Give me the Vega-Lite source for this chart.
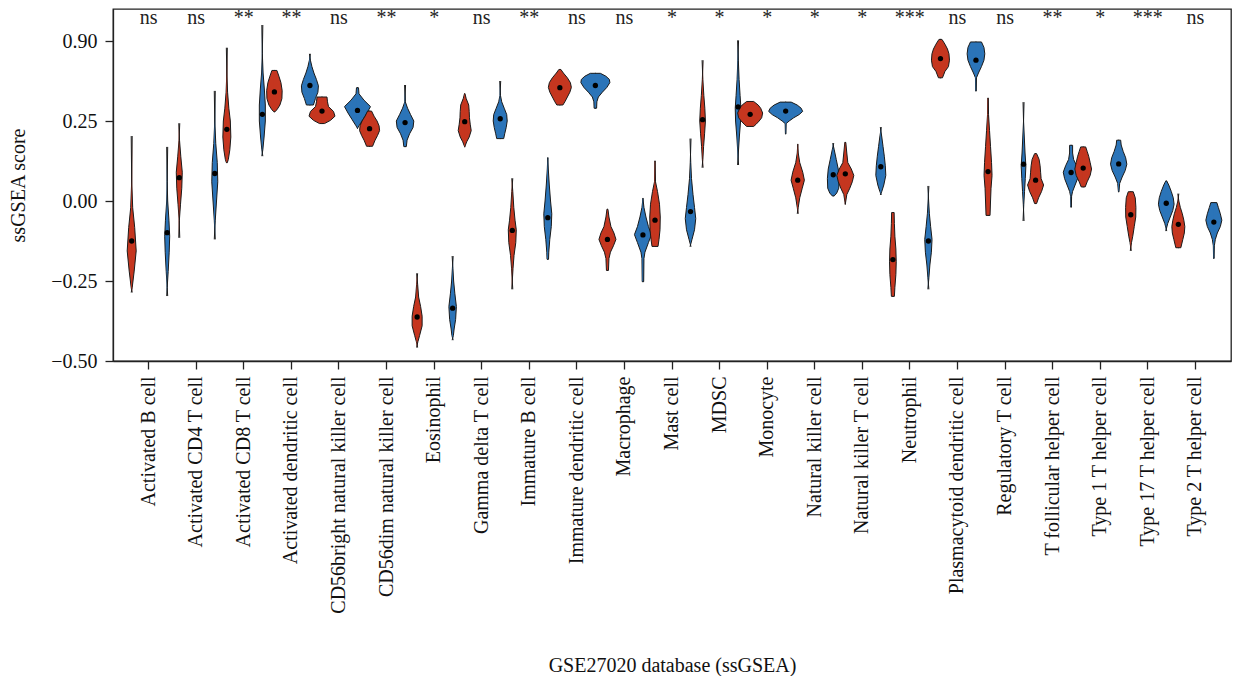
{
"$schema": "https://vega.github.io/schema/vega-lite/v6.json",
"width": 1118, "height": 352,
"autosize": {"type": "none"},
"padding": {"left": 113, "top": 9, "right": 2, "bottom": 315},
"background": "white",
"config": {
  "font": "Liberation Serif",
  "view": {"stroke": "#222", "strokeWidth": 1.3},
  "axis": {"labelFont": "Liberation Serif", "titleFont": "Liberation Serif", "labelFontSize": 20, "titleFontSize": 20, "titleFontWeight": "normal", "labelColor": "#111", "titleColor": "#111", "domainColor": "#222", "tickColor": "#222", "domainWidth": 1.3, "tickWidth": 1.3, "grid": false, "tickSize": 8, "labelLimit": 0}
},
"datasets": {
"violins": [
{"cell":"Activated B cell","group":"G1","score":0.203,"density":0},{"cell":"Activated B cell","group":"G1","score":0.0625,"density":1},{"cell":"Activated B cell","group":"G1","score":-0.021,"density":3},{"cell":"Activated B cell","group":"G1","score":-0.083,"density":7},{"cell":"Activated B cell","group":"G1","score":-0.156,"density":10},{"cell":"Activated B cell","group":"G1","score":-0.219,"density":6},{"cell":"Activated B cell","group":"G1","score":-0.271,"density":2},{"cell":"Activated B cell","group":"G1","score":-0.286,"density":0},
{"cell":"Activated B cell","group":"G2","score":0.169,"density":0},{"cell":"Activated B cell","group":"G2","score":0.06,"density":1},{"cell":"Activated B cell","group":"G2","score":0.0,"density":2},{"cell":"Activated B cell","group":"G2","score":-0.06,"density":4.5},{"cell":"Activated B cell","group":"G2","score":-0.11,"density":6},{"cell":"Activated B cell","group":"G2","score":-0.16,"density":5},{"cell":"Activated B cell","group":"G2","score":-0.22,"density":3},{"cell":"Activated B cell","group":"G2","score":-0.27,"density":1},{"cell":"Activated B cell","group":"G2","score":-0.297,"density":0},
{"cell":"Activated CD4 T cell","group":"G1","score":0.243,"density":0},{"cell":"Activated CD4 T cell","group":"G1","score":0.19,"density":1.5},{"cell":"Activated CD4 T cell","group":"G1","score":0.14,"density":4},{"cell":"Activated CD4 T cell","group":"G1","score":0.09,"density":7},{"cell":"Activated CD4 T cell","group":"G1","score":0.04,"density":6},{"cell":"Activated CD4 T cell","group":"G1","score":-0.01,"density":3.5},{"cell":"Activated CD4 T cell","group":"G1","score":-0.06,"density":1.2},{"cell":"Activated CD4 T cell","group":"G1","score":-0.115,"density":0},
{"cell":"Activated CD4 T cell","group":"G2","score":0.344,"density":0},{"cell":"Activated CD4 T cell","group":"G2","score":0.25,"density":1},{"cell":"Activated CD4 T cell","group":"G2","score":0.18,"density":3},{"cell":"Activated CD4 T cell","group":"G2","score":0.12,"density":6},{"cell":"Activated CD4 T cell","group":"G2","score":0.06,"density":7},{"cell":"Activated CD4 T cell","group":"G2","score":0.0,"density":4.5},{"cell":"Activated CD4 T cell","group":"G2","score":-0.06,"density":2},{"cell":"Activated CD4 T cell","group":"G2","score":-0.12,"density":0},
{"cell":"Activated CD8 T cell","group":"G1","score":0.479,"density":0},{"cell":"Activated CD8 T cell","group":"G1","score":0.40,"density":1},{"cell":"Activated CD8 T cell","group":"G1","score":0.34,"density":2.5},{"cell":"Activated CD8 T cell","group":"G1","score":0.29,"density":5},{"cell":"Activated CD8 T cell","group":"G1","score":0.25,"density":8},{"cell":"Activated CD8 T cell","group":"G1","score":0.20,"density":9},{"cell":"Activated CD8 T cell","group":"G1","score":0.16,"density":7},{"cell":"Activated CD8 T cell","group":"G1","score":0.13,"density":4},{"cell":"Activated CD8 T cell","group":"G1","score":0.12,"density":2},{"cell":"Activated CD8 T cell","group":"G1","score":0.12,"density":0},
{"cell":"Activated CD8 T cell","group":"G2","score":0.55,"density":0},{"cell":"Activated CD8 T cell","group":"G2","score":0.46,"density":1},{"cell":"Activated CD8 T cell","group":"G2","score":0.40,"density":2.5},{"cell":"Activated CD8 T cell","group":"G2","score":0.35,"density":5},{"cell":"Activated CD8 T cell","group":"G2","score":0.30,"density":7},{"cell":"Activated CD8 T cell","group":"G2","score":0.25,"density":7},{"cell":"Activated CD8 T cell","group":"G2","score":0.20,"density":4.5},{"cell":"Activated CD8 T cell","group":"G2","score":0.16,"density":2},{"cell":"Activated CD8 T cell","group":"G2","score":0.14,"density":0},
{"cell":"Activated dendritic cell","group":"G1","score":0.408,"density":0},{"cell":"Activated dendritic cell","group":"G1","score":0.408,"density":6},{"cell":"Activated dendritic cell","group":"G1","score":0.39,"density":10},{"cell":"Activated dendritic cell","group":"G1","score":0.37,"density":14},{"cell":"Activated dendritic cell","group":"G1","score":0.345,"density":16.5},{"cell":"Activated dendritic cell","group":"G1","score":0.32,"density":16},{"cell":"Activated dendritic cell","group":"G1","score":0.30,"density":12},{"cell":"Activated dendritic cell","group":"G1","score":0.285,"density":6},{"cell":"Activated dendritic cell","group":"G1","score":0.279,"density":2},{"cell":"Activated dendritic cell","group":"G1","score":0.279,"density":0},
{"cell":"Activated dendritic cell","group":"G2","score":0.46,"density":0},{"cell":"Activated dendritic cell","group":"G2","score":0.44,"density":2},{"cell":"Activated dendritic cell","group":"G2","score":0.42,"density":5},{"cell":"Activated dendritic cell","group":"G2","score":0.40,"density":9},{"cell":"Activated dendritic cell","group":"G2","score":0.38,"density":14},{"cell":"Activated dendritic cell","group":"G2","score":0.36,"density":18},{"cell":"Activated dendritic cell","group":"G2","score":0.34,"density":17},{"cell":"Activated dendritic cell","group":"G2","score":0.32,"density":12},{"cell":"Activated dendritic cell","group":"G2","score":0.30,"density":8},{"cell":"Activated dendritic cell","group":"G2","score":0.30,"density":0},
{"cell":"CD56bright natural killer cell","group":"G1","score":0.325,"density":0},{"cell":"CD56bright natural killer cell","group":"G1","score":0.325,"density":11},{"cell":"CD56bright natural killer cell","group":"G1","score":0.31,"density":12},{"cell":"CD56bright natural killer cell","group":"G1","score":0.295,"density":14},{"cell":"CD56bright natural killer cell","group":"G1","score":0.28,"density":24},{"cell":"CD56bright natural killer cell","group":"G1","score":0.265,"density":27},{"cell":"CD56bright natural killer cell","group":"G1","score":0.252,"density":18},{"cell":"CD56bright natural killer cell","group":"G1","score":0.242,"density":6},{"cell":"CD56bright natural killer cell","group":"G1","score":0.242,"density":0},
{"cell":"CD56bright natural killer cell","group":"G2","score":0.354,"density":0},{"cell":"CD56bright natural killer cell","group":"G2","score":0.354,"density":3},{"cell":"CD56bright natural killer cell","group":"G2","score":0.335,"density":4},{"cell":"CD56bright natural killer cell","group":"G2","score":0.315,"density":14},{"cell":"CD56bright natural killer cell","group":"G2","score":0.295,"density":27},{"cell":"CD56bright natural killer cell","group":"G2","score":0.275,"density":20},{"cell":"CD56bright natural killer cell","group":"G2","score":0.255,"density":12},{"cell":"CD56bright natural killer cell","group":"G2","score":0.235,"density":4},{"cell":"CD56bright natural killer cell","group":"G2","score":0.227,"density":1},{"cell":"CD56bright natural killer cell","group":"G2","score":0.227,"density":0},
{"cell":"CD56dim natural killer cell","group":"G1","score":0.281,"density":0},{"cell":"CD56dim natural killer cell","group":"G1","score":0.281,"density":5},{"cell":"CD56dim natural killer cell","group":"G1","score":0.265,"density":10},{"cell":"CD56dim natural killer cell","group":"G1","score":0.25,"density":16},{"cell":"CD56dim natural killer cell","group":"G1","score":0.235,"density":20},{"cell":"CD56dim natural killer cell","group":"G1","score":0.22,"density":21},{"cell":"CD56dim natural killer cell","group":"G1","score":0.205,"density":17},{"cell":"CD56dim natural killer cell","group":"G1","score":0.19,"density":12},{"cell":"CD56dim natural killer cell","group":"G1","score":0.175,"density":8},{"cell":"CD56dim natural killer cell","group":"G1","score":0.171,"density":7},{"cell":"CD56dim natural killer cell","group":"G1","score":0.171,"density":0},
{"cell":"CD56dim natural killer cell","group":"G2","score":0.3625,"density":0},{"cell":"CD56dim natural killer cell","group":"G2","score":0.31,"density":1.5},{"cell":"CD56dim natural killer cell","group":"G2","score":0.29,"density":6},{"cell":"CD56dim natural killer cell","group":"G2","score":0.27,"density":12},{"cell":"CD56dim natural killer cell","group":"G2","score":0.25,"density":18.5},{"cell":"CD56dim natural killer cell","group":"G2","score":0.23,"density":17},{"cell":"CD56dim natural killer cell","group":"G2","score":0.21,"density":10},{"cell":"CD56dim natural killer cell","group":"G2","score":0.19,"density":5},{"cell":"CD56dim natural killer cell","group":"G2","score":0.17,"density":3.5},{"cell":"CD56dim natural killer cell","group":"G2","score":0.17,"density":0},
{"cell":"Eosinophil","group":"G1","score":-0.226,"density":0},{"cell":"Eosinophil","group":"G1","score":-0.26,"density":2},{"cell":"Eosinophil","group":"G1","score":-0.30,"density":4},{"cell":"Eosinophil","group":"G1","score":-0.33,"density":8},{"cell":"Eosinophil","group":"G1","score":-0.36,"density":11},{"cell":"Eosinophil","group":"G1","score":-0.39,"density":11},{"cell":"Eosinophil","group":"G1","score":-0.42,"density":6},{"cell":"Eosinophil","group":"G1","score":-0.44,"density":2.5},{"cell":"Eosinophil","group":"G1","score":-0.458,"density":0},
{"cell":"Eosinophil","group":"G2","score":-0.172,"density":0},{"cell":"Eosinophil","group":"G2","score":-0.21,"density":1.5},{"cell":"Eosinophil","group":"G2","score":-0.25,"density":3},{"cell":"Eosinophil","group":"G2","score":-0.29,"density":5.5},{"cell":"Eosinophil","group":"G2","score":-0.33,"density":8.5},{"cell":"Eosinophil","group":"G2","score":-0.37,"density":7},{"cell":"Eosinophil","group":"G2","score":-0.40,"density":4},{"cell":"Eosinophil","group":"G2","score":-0.42,"density":2.5},{"cell":"Eosinophil","group":"G2","score":-0.435,"density":0},
{"cell":"Gamma delta T cell","group":"G1","score":0.335,"density":0},{"cell":"Gamma delta T cell","group":"G1","score":0.335,"density":1.5},{"cell":"Gamma delta T cell","group":"G1","score":0.32,"density":4},{"cell":"Gamma delta T cell","group":"G1","score":0.30,"density":9},{"cell":"Gamma delta T cell","group":"G1","score":0.28,"density":10},{"cell":"Gamma delta T cell","group":"G1","score":0.26,"density":10.5},{"cell":"Gamma delta T cell","group":"G1","score":0.24,"density":12},{"cell":"Gamma delta T cell","group":"G1","score":0.22,"density":14},{"cell":"Gamma delta T cell","group":"G1","score":0.20,"density":10},{"cell":"Gamma delta T cell","group":"G1","score":0.185,"density":5},{"cell":"Gamma delta T cell","group":"G1","score":0.169,"density":1},{"cell":"Gamma delta T cell","group":"G1","score":0.169,"density":0},
{"cell":"Gamma delta T cell","group":"G2","score":0.375,"density":0},{"cell":"Gamma delta T cell","group":"G2","score":0.33,"density":1.5},{"cell":"Gamma delta T cell","group":"G2","score":0.31,"density":4},{"cell":"Gamma delta T cell","group":"G2","score":0.29,"density":9},{"cell":"Gamma delta T cell","group":"G2","score":0.27,"density":14},{"cell":"Gamma delta T cell","group":"G2","score":0.25,"density":15},{"cell":"Gamma delta T cell","group":"G2","score":0.23,"density":13},{"cell":"Gamma delta T cell","group":"G2","score":0.21,"density":10},{"cell":"Gamma delta T cell","group":"G2","score":0.195,"density":8},{"cell":"Gamma delta T cell","group":"G2","score":0.195,"density":0},
{"cell":"Immature B cell","group":"G1","score":0.071,"density":0},{"cell":"Immature B cell","group":"G1","score":0.03,"density":2},{"cell":"Immature B cell","group":"G1","score":-0.02,"density":4},{"cell":"Immature B cell","group":"G1","score":-0.06,"density":6.5},{"cell":"Immature B cell","group":"G1","score":-0.09,"density":9},{"cell":"Immature B cell","group":"G1","score":-0.13,"density":8},{"cell":"Immature B cell","group":"G1","score":-0.17,"density":4.5},{"cell":"Immature B cell","group":"G1","score":-0.21,"density":2.5},{"cell":"Immature B cell","group":"G1","score":-0.25,"density":1},{"cell":"Immature B cell","group":"G1","score":-0.276,"density":0},
{"cell":"Immature B cell","group":"G2","score":0.135,"density":0},{"cell":"Immature B cell","group":"G2","score":0.135,"density":1},{"cell":"Immature B cell","group":"G2","score":0.10,"density":2},{"cell":"Immature B cell","group":"G2","score":0.05,"density":4},{"cell":"Immature B cell","group":"G2","score":0.0,"density":6.5},{"cell":"Immature B cell","group":"G2","score":-0.04,"density":9},{"cell":"Immature B cell","group":"G2","score":-0.08,"density":8},{"cell":"Immature B cell","group":"G2","score":-0.12,"density":5},{"cell":"Immature B cell","group":"G2","score":-0.16,"density":3},{"cell":"Immature B cell","group":"G2","score":-0.182,"density":2.5},{"cell":"Immature B cell","group":"G2","score":-0.182,"density":0},
{"cell":"Immature dendritic cell","group":"G1","score":0.411,"density":0},{"cell":"Immature dendritic cell","group":"G1","score":0.411,"density":3},{"cell":"Immature dendritic cell","group":"G1","score":0.40,"density":8},{"cell":"Immature dendritic cell","group":"G1","score":0.385,"density":16},{"cell":"Immature dendritic cell","group":"G1","score":0.37,"density":22},{"cell":"Immature dendritic cell","group":"G1","score":0.355,"density":24},{"cell":"Immature dendritic cell","group":"G1","score":0.34,"density":21},{"cell":"Immature dendritic cell","group":"G1","score":0.325,"density":16},{"cell":"Immature dendritic cell","group":"G1","score":0.31,"density":11},{"cell":"Immature dendritic cell","group":"G1","score":0.30,"density":7},{"cell":"Immature dendritic cell","group":"G1","score":0.30,"density":0},
{"cell":"Immature dendritic cell","group":"G2","score":0.399,"density":0},{"cell":"Immature dendritic cell","group":"G2","score":0.399,"density":11},{"cell":"Immature dendritic cell","group":"G2","score":0.39,"density":22},{"cell":"Immature dendritic cell","group":"G2","score":0.38,"density":29},{"cell":"Immature dendritic cell","group":"G2","score":0.37,"density":30},{"cell":"Immature dendritic cell","group":"G2","score":0.355,"density":24},{"cell":"Immature dendritic cell","group":"G2","score":0.34,"density":15},{"cell":"Immature dendritic cell","group":"G2","score":0.325,"density":7},{"cell":"Immature dendritic cell","group":"G2","score":0.31,"density":4},{"cell":"Immature dendritic cell","group":"G2","score":0.29,"density":3.5},{"cell":"Immature dendritic cell","group":"G2","score":0.29,"density":0},
{"cell":"Macrophage","group":"G1","score":-0.026,"density":0},{"cell":"Macrophage","group":"G1","score":-0.026,"density":2},{"cell":"Macrophage","group":"G1","score":-0.05,"density":4},{"cell":"Macrophage","group":"G1","score":-0.08,"density":8},{"cell":"Macrophage","group":"G1","score":-0.10,"density":14},{"cell":"Macrophage","group":"G1","score":-0.12,"density":18},{"cell":"Macrophage","group":"G1","score":-0.14,"density":13},{"cell":"Macrophage","group":"G1","score":-0.16,"density":7},{"cell":"Macrophage","group":"G1","score":-0.18,"density":4},{"cell":"Macrophage","group":"G1","score":-0.217,"density":3},{"cell":"Macrophage","group":"G1","score":-0.217,"density":0},
{"cell":"Macrophage","group":"G2","score":0.008,"density":0},{"cell":"Macrophage","group":"G2","score":0.008,"density":1},{"cell":"Macrophage","group":"G2","score":-0.02,"density":3},{"cell":"Macrophage","group":"G2","score":-0.05,"density":7},{"cell":"Macrophage","group":"G2","score":-0.08,"density":12},{"cell":"Macrophage","group":"G2","score":-0.105,"density":18},{"cell":"Macrophage","group":"G2","score":-0.13,"density":12},{"cell":"Macrophage","group":"G2","score":-0.16,"density":5},{"cell":"Macrophage","group":"G2","score":-0.18,"density":3},{"cell":"Macrophage","group":"G2","score":-0.252,"density":2.5},{"cell":"Macrophage","group":"G2","score":-0.252,"density":0},
{"cell":"Mast cell","group":"G1","score":0.125,"density":0},{"cell":"Mast cell","group":"G1","score":0.125,"density":1},{"cell":"Mast cell","group":"G1","score":0.06,"density":2},{"cell":"Mast cell","group":"G1","score":0.03,"density":6},{"cell":"Mast cell","group":"G1","score":-0.01,"density":10},{"cell":"Mast cell","group":"G1","score":-0.05,"density":11.5},{"cell":"Mast cell","group":"G1","score":-0.09,"density":11},{"cell":"Mast cell","group":"G1","score":-0.12,"density":9},{"cell":"Mast cell","group":"G1","score":-0.142,"density":7},{"cell":"Mast cell","group":"G1","score":-0.142,"density":0},
{"cell":"Mast cell","group":"G2","score":0.195,"density":0},{"cell":"Mast cell","group":"G2","score":0.12,"density":1.5},{"cell":"Mast cell","group":"G2","score":0.07,"density":3},{"cell":"Mast cell","group":"G2","score":0.02,"density":6},{"cell":"Mast cell","group":"G2","score":-0.02,"density":9},{"cell":"Mast cell","group":"G2","score":-0.055,"density":11.5},{"cell":"Mast cell","group":"G2","score":-0.09,"density":9},{"cell":"Mast cell","group":"G2","score":-0.12,"density":4},{"cell":"Mast cell","group":"G2","score":-0.143,"density":0},
{"cell":"MDSC","group":"G1","score":0.44,"density":0},{"cell":"MDSC","group":"G1","score":0.38,"density":1.5},{"cell":"MDSC","group":"G1","score":0.33,"density":3.5},{"cell":"MDSC","group":"G1","score":0.29,"density":5.5},{"cell":"MDSC","group":"G1","score":0.25,"density":6.7},{"cell":"MDSC","group":"G1","score":0.21,"density":5},{"cell":"MDSC","group":"G1","score":0.17,"density":3},{"cell":"MDSC","group":"G1","score":0.13,"density":1.5},{"cell":"MDSC","group":"G1","score":0.104,"density":0},
{"cell":"MDSC","group":"G2","score":0.502,"density":0},{"cell":"MDSC","group":"G2","score":0.44,"density":1.5},{"cell":"MDSC","group":"G2","score":0.38,"density":3},{"cell":"MDSC","group":"G2","score":0.33,"density":5},{"cell":"MDSC","group":"G2","score":0.29,"density":6.7},{"cell":"MDSC","group":"G2","score":0.25,"density":6},{"cell":"MDSC","group":"G2","score":0.20,"density":3.5},{"cell":"MDSC","group":"G2","score":0.15,"density":1.5},{"cell":"MDSC","group":"G2","score":0.1125,"density":0},
{"cell":"Monocyte","group":"G1","score":0.311,"density":0},{"cell":"Monocyte","group":"G1","score":0.311,"density":8},{"cell":"Monocyte","group":"G1","score":0.30,"density":17},{"cell":"Monocyte","group":"G1","score":0.29,"density":22},{"cell":"Monocyte","group":"G1","score":0.275,"density":26},{"cell":"Monocyte","group":"G1","score":0.26,"density":24},{"cell":"Monocyte","group":"G1","score":0.25,"density":19},{"cell":"Monocyte","group":"G1","score":0.24,"density":13},{"cell":"Monocyte","group":"G1","score":0.233,"density":8},{"cell":"Monocyte","group":"G1","score":0.233,"density":0},
{"cell":"Monocyte","group":"G2","score":0.309,"density":0},{"cell":"Monocyte","group":"G2","score":0.309,"density":12},{"cell":"Monocyte","group":"G2","score":0.30,"density":24},{"cell":"Monocyte","group":"G2","score":0.29,"density":32},{"cell":"Monocyte","group":"G2","score":0.28,"density":35},{"cell":"Monocyte","group":"G2","score":0.27,"density":28},{"cell":"Monocyte","group":"G2","score":0.26,"density":17},{"cell":"Monocyte","group":"G2","score":0.25,"density":8},{"cell":"Monocyte","group":"G2","score":0.242,"density":2},{"cell":"Monocyte","group":"G2","score":0.21,"density":1.5},{"cell":"Monocyte","group":"G2","score":0.21,"density":0},
{"cell":"Natural killer cell","group":"G1","score":0.177,"density":0},{"cell":"Natural killer cell","group":"G1","score":0.177,"density":1},{"cell":"Natural killer cell","group":"G1","score":0.15,"density":2},{"cell":"Natural killer cell","group":"G1","score":0.12,"density":5},{"cell":"Natural killer cell","group":"G1","score":0.09,"density":11},{"cell":"Natural killer cell","group":"G1","score":0.065,"density":14.3},{"cell":"Natural killer cell","group":"G1","score":0.04,"density":10},{"cell":"Natural killer cell","group":"G1","score":0.01,"density":5},{"cell":"Natural killer cell","group":"G1","score":-0.02,"density":2},{"cell":"Natural killer cell","group":"G1","score":-0.04,"density":0},
{"cell":"Natural killer cell","group":"G2","score":0.181,"density":0},{"cell":"Natural killer cell","group":"G2","score":0.16,"density":3},{"cell":"Natural killer cell","group":"G2","score":0.13,"density":7},{"cell":"Natural killer cell","group":"G2","score":0.10,"density":11},{"cell":"Natural killer cell","group":"G2","score":0.07,"density":12.7},{"cell":"Natural killer cell","group":"G2","score":0.04,"density":12},{"cell":"Natural killer cell","group":"G2","score":0.025,"density":8},{"cell":"Natural killer cell","group":"G2","score":0.016,"density":3},{"cell":"Natural killer cell","group":"G2","score":0.016,"density":0},
{"cell":"Natural killer T cell","group":"G1","score":0.183,"density":0},{"cell":"Natural killer T cell","group":"G1","score":0.183,"density":2},{"cell":"Natural killer T cell","group":"G1","score":0.15,"density":4},{"cell":"Natural killer T cell","group":"G1","score":0.12,"density":6},{"cell":"Natural killer T cell","group":"G1","score":0.10,"density":13},{"cell":"Natural killer T cell","group":"G1","score":0.08,"density":18},{"cell":"Natural killer T cell","group":"G1","score":0.06,"density":15},{"cell":"Natural killer T cell","group":"G1","score":0.04,"density":10},{"cell":"Natural killer T cell","group":"G1","score":0.02,"density":4},{"cell":"Natural killer T cell","group":"G1","score":-0.01,"density":1},{"cell":"Natural killer T cell","group":"G1","score":-0.01,"density":0},
{"cell":"Natural killer T cell","group":"G2","score":0.231,"density":0},{"cell":"Natural killer T cell","group":"G2","score":0.20,"density":3},{"cell":"Natural killer T cell","group":"G2","score":0.17,"density":5.5},{"cell":"Natural killer T cell","group":"G2","score":0.14,"density":8},{"cell":"Natural killer T cell","group":"G2","score":0.11,"density":10},{"cell":"Natural killer T cell","group":"G2","score":0.08,"density":11},{"cell":"Natural killer T cell","group":"G2","score":0.05,"density":7},{"cell":"Natural killer T cell","group":"G2","score":0.03,"density":3},{"cell":"Natural killer T cell","group":"G2","score":0.019,"density":0},
{"cell":"Neutrophil","group":"G1","score":-0.036,"density":0},{"cell":"Neutrophil","group":"G1","score":-0.036,"density":3.5},{"cell":"Neutrophil","group":"G1","score":-0.07,"density":4},{"cell":"Neutrophil","group":"G1","score":-0.11,"density":5},{"cell":"Neutrophil","group":"G1","score":-0.15,"density":7},{"cell":"Neutrophil","group":"G1","score":-0.19,"density":7.7},{"cell":"Neutrophil","group":"G1","score":-0.23,"density":7},{"cell":"Neutrophil","group":"G1","score":-0.27,"density":5},{"cell":"Neutrophil","group":"G1","score":-0.298,"density":4},{"cell":"Neutrophil","group":"G1","score":-0.298,"density":0},
{"cell":"Neutrophil","group":"G2","score":0.047,"density":0},{"cell":"Neutrophil","group":"G2","score":0.0,"density":1.5},{"cell":"Neutrophil","group":"G2","score":-0.04,"density":3},{"cell":"Neutrophil","group":"G2","score":-0.08,"density":5.5},{"cell":"Neutrophil","group":"G2","score":-0.12,"density":8.3},{"cell":"Neutrophil","group":"G2","score":-0.16,"density":7},{"cell":"Neutrophil","group":"G2","score":-0.20,"density":4},{"cell":"Neutrophil","group":"G2","score":-0.24,"density":2},{"cell":"Neutrophil","group":"G2","score":-0.276,"density":0},
{"cell":"Plasmacytoid dendritic cell","group":"G1","score":0.505,"density":0},{"cell":"Plasmacytoid dendritic cell","group":"G1","score":0.505,"density":4},{"cell":"Plasmacytoid dendritic cell","group":"G1","score":0.49,"density":10},{"cell":"Plasmacytoid dendritic cell","group":"G1","score":0.475,"density":15},{"cell":"Plasmacytoid dendritic cell","group":"G1","score":0.46,"density":18},{"cell":"Plasmacytoid dendritic cell","group":"G1","score":0.44,"density":19},{"cell":"Plasmacytoid dendritic cell","group":"G1","score":0.42,"density":17},{"cell":"Plasmacytoid dendritic cell","group":"G1","score":0.405,"density":10},{"cell":"Plasmacytoid dendritic cell","group":"G1","score":0.385,"density":5},{"cell":"Plasmacytoid dendritic cell","group":"G1","score":0.385,"density":0},
{"cell":"Plasmacytoid dendritic cell","group":"G2","score":0.497,"density":0},{"cell":"Plasmacytoid dendritic cell","group":"G2","score":0.497,"density":12},{"cell":"Plasmacytoid dendritic cell","group":"G2","score":0.48,"density":17},{"cell":"Plasmacytoid dendritic cell","group":"G2","score":0.46,"density":18.7},{"cell":"Plasmacytoid dendritic cell","group":"G2","score":0.44,"density":17},{"cell":"Plasmacytoid dendritic cell","group":"G2","score":0.42,"density":12},{"cell":"Plasmacytoid dendritic cell","group":"G2","score":0.40,"density":6},{"cell":"Plasmacytoid dendritic cell","group":"G2","score":0.385,"density":2},{"cell":"Plasmacytoid dendritic cell","group":"G2","score":0.344,"density":1.5},{"cell":"Plasmacytoid dendritic cell","group":"G2","score":0.344,"density":0},
{"cell":"Regulatory T cell","group":"G1","score":0.321,"density":0},{"cell":"Regulatory T cell","group":"G1","score":0.321,"density":1.5},{"cell":"Regulatory T cell","group":"G1","score":0.27,"density":2},{"cell":"Regulatory T cell","group":"G1","score":0.22,"density":4},{"cell":"Regulatory T cell","group":"G1","score":0.17,"density":6},{"cell":"Regulatory T cell","group":"G1","score":0.12,"density":8},{"cell":"Regulatory T cell","group":"G1","score":0.08,"density":9},{"cell":"Regulatory T cell","group":"G1","score":0.04,"density":7},{"cell":"Regulatory T cell","group":"G1","score":0.0,"density":6},{"cell":"Regulatory T cell","group":"G1","score":-0.045,"density":5},{"cell":"Regulatory T cell","group":"G1","score":-0.045,"density":0},
{"cell":"Regulatory T cell","group":"G2","score":0.309,"density":0},{"cell":"Regulatory T cell","group":"G2","score":0.25,"density":1},{"cell":"Regulatory T cell","group":"G2","score":0.20,"density":2.5},{"cell":"Regulatory T cell","group":"G2","score":0.15,"density":4},{"cell":"Regulatory T cell","group":"G2","score":0.11,"density":5.7},{"cell":"Regulatory T cell","group":"G2","score":0.07,"density":4.5},{"cell":"Regulatory T cell","group":"G2","score":0.03,"density":3},{"cell":"Regulatory T cell","group":"G2","score":-0.01,"density":1.5},{"cell":"Regulatory T cell","group":"G2","score":-0.0625,"density":0},
{"cell":"T follicular helper cell","group":"G1","score":0.148,"density":0},{"cell":"T follicular helper cell","group":"G1","score":0.148,"density":3},{"cell":"T follicular helper cell","group":"G1","score":0.13,"density":8},{"cell":"T follicular helper cell","group":"G1","score":0.11,"density":10},{"cell":"T follicular helper cell","group":"G1","score":0.09,"density":11},{"cell":"T follicular helper cell","group":"G1","score":0.07,"density":12},{"cell":"T follicular helper cell","group":"G1","score":0.05,"density":17},{"cell":"T follicular helper cell","group":"G1","score":0.03,"density":13},{"cell":"T follicular helper cell","group":"G1","score":0.01,"density":7},{"cell":"T follicular helper cell","group":"G1","score":-0.008,"density":3},{"cell":"T follicular helper cell","group":"G1","score":-0.008,"density":0},
{"cell":"T follicular helper cell","group":"G2","score":0.174,"density":0},{"cell":"T follicular helper cell","group":"G2","score":0.174,"density":4},{"cell":"T follicular helper cell","group":"G2","score":0.15,"density":4},{"cell":"T follicular helper cell","group":"G2","score":0.13,"density":6},{"cell":"T follicular helper cell","group":"G2","score":0.11,"density":12},{"cell":"T follicular helper cell","group":"G2","score":0.09,"density":16.7},{"cell":"T follicular helper cell","group":"G2","score":0.07,"density":14},{"cell":"T follicular helper cell","group":"G2","score":0.05,"density":9},{"cell":"T follicular helper cell","group":"G2","score":0.03,"density":4},{"cell":"T follicular helper cell","group":"G2","score":0.015,"density":2},{"cell":"T follicular helper cell","group":"G2","score":-0.019,"density":1.5},{"cell":"T follicular helper cell","group":"G2","score":-0.019,"density":0},
{"cell":"Type 1 T helper cell","group":"G1","score":0.169,"density":0},{"cell":"Type 1 T helper cell","group":"G1","score":0.169,"density":6},{"cell":"Type 1 T helper cell","group":"G1","score":0.155,"density":9},{"cell":"Type 1 T helper cell","group":"G1","score":0.14,"density":12},{"cell":"Type 1 T helper cell","group":"G1","score":0.12,"density":15},{"cell":"Type 1 T helper cell","group":"G1","score":0.10,"density":17.7},{"cell":"Type 1 T helper cell","group":"G1","score":0.08,"density":15},{"cell":"Type 1 T helper cell","group":"G1","score":0.06,"density":9},{"cell":"Type 1 T helper cell","group":"G1","score":0.044,"density":5},{"cell":"Type 1 T helper cell","group":"G1","score":0.044,"density":0},
{"cell":"Type 1 T helper cell","group":"G2","score":0.19,"density":0},{"cell":"Type 1 T helper cell","group":"G2","score":0.19,"density":5},{"cell":"Type 1 T helper cell","group":"G2","score":0.175,"density":6},{"cell":"Type 1 T helper cell","group":"G2","score":0.155,"density":10},{"cell":"Type 1 T helper cell","group":"G2","score":0.135,"density":15},{"cell":"Type 1 T helper cell","group":"G2","score":0.115,"density":17.3},{"cell":"Type 1 T helper cell","group":"G2","score":0.095,"density":14},{"cell":"Type 1 T helper cell","group":"G2","score":0.075,"density":8},{"cell":"Type 1 T helper cell","group":"G2","score":0.055,"density":3},{"cell":"Type 1 T helper cell","group":"G2","score":0.029,"density":1.5},{"cell":"Type 1 T helper cell","group":"G2","score":0.029,"density":0},
{"cell":"Type 17 T helper cell","group":"G1","score":0.029,"density":0},{"cell":"Type 17 T helper cell","group":"G1","score":0.029,"density":6},{"cell":"Type 17 T helper cell","group":"G1","score":0.01,"density":10},{"cell":"Type 17 T helper cell","group":"G1","score":-0.02,"density":11.3},{"cell":"Type 17 T helper cell","group":"G1","score":-0.05,"density":11},{"cell":"Type 17 T helper cell","group":"G1","score":-0.08,"density":8},{"cell":"Type 17 T helper cell","group":"G1","score":-0.11,"density":5},{"cell":"Type 17 T helper cell","group":"G1","score":-0.13,"density":2.5},{"cell":"Type 17 T helper cell","group":"G1","score":-0.156,"density":0},
{"cell":"Type 17 T helper cell","group":"G2","score":0.0625,"density":0},{"cell":"Type 17 T helper cell","group":"G2","score":0.0625,"density":2},{"cell":"Type 17 T helper cell","group":"G2","score":0.05,"density":6},{"cell":"Type 17 T helper cell","group":"G2","score":0.03,"density":11},{"cell":"Type 17 T helper cell","group":"G2","score":0.01,"density":15},{"cell":"Type 17 T helper cell","group":"G2","score":-0.01,"density":16.7},{"cell":"Type 17 T helper cell","group":"G2","score":-0.03,"density":14},{"cell":"Type 17 T helper cell","group":"G2","score":-0.05,"density":9},{"cell":"Type 17 T helper cell","group":"G2","score":-0.07,"density":4},{"cell":"Type 17 T helper cell","group":"G2","score":-0.094,"density":0},
{"cell":"Type 2 T helper cell","group":"G1","score":0.023,"density":0},{"cell":"Type 2 T helper cell","group":"G1","score":0.0,"density":2},{"cell":"Type 2 T helper cell","group":"G1","score":-0.02,"density":5},{"cell":"Type 2 T helper cell","group":"G1","score":-0.04,"density":9},{"cell":"Type 2 T helper cell","group":"G1","score":-0.06,"density":12},{"cell":"Type 2 T helper cell","group":"G1","score":-0.08,"density":14},{"cell":"Type 2 T helper cell","group":"G1","score":-0.10,"density":13},{"cell":"Type 2 T helper cell","group":"G1","score":-0.12,"density":10},{"cell":"Type 2 T helper cell","group":"G1","score":-0.146,"density":6},{"cell":"Type 2 T helper cell","group":"G1","score":-0.146,"density":0},
{"cell":"Type 2 T helper cell","group":"G2","score":-0.005,"density":0},{"cell":"Type 2 T helper cell","group":"G2","score":-0.005,"density":7},{"cell":"Type 2 T helper cell","group":"G2","score":-0.02,"density":10},{"cell":"Type 2 T helper cell","group":"G2","score":-0.04,"density":14},{"cell":"Type 2 T helper cell","group":"G2","score":-0.06,"density":17},{"cell":"Type 2 T helper cell","group":"G2","score":-0.08,"density":14},{"cell":"Type 2 T helper cell","group":"G2","score":-0.10,"density":8},{"cell":"Type 2 T helper cell","group":"G2","score":-0.12,"density":4},{"cell":"Type 2 T helper cell","group":"G2","score":-0.14,"density":2},{"cell":"Type 2 T helper cell","group":"G2","score":-0.179,"density":1.5},{"cell":"Type 2 T helper cell","group":"G2","score":-0.179,"density":0}
],
"medians": [
{"cell":"Activated B cell","group":"G1","median":-0.125},{"cell":"Activated B cell","group":"G2","median":-0.099},
{"cell":"Activated CD4 T cell","group":"G1","median":0.073},{"cell":"Activated CD4 T cell","group":"G2","median":0.086},
{"cell":"Activated CD8 T cell","group":"G1","median":0.224},{"cell":"Activated CD8 T cell","group":"G2","median":0.271},
{"cell":"Activated dendritic cell","group":"G1","median":0.341},{"cell":"Activated dendritic cell","group":"G2","median":0.361},
{"cell":"CD56bright natural killer cell","group":"G1","median":0.281},{"cell":"CD56bright natural killer cell","group":"G2","median":0.283},
{"cell":"CD56dim natural killer cell","group":"G1","median":0.226},{"cell":"CD56dim natural killer cell","group":"G2","median":0.245},
{"cell":"Eosinophil","group":"G1","median":-0.3625},{"cell":"Eosinophil","group":"G2","median":-0.335},
{"cell":"Gamma delta T cell","group":"G1","median":0.248},{"cell":"Gamma delta T cell","group":"G2","median":0.257},
{"cell":"Immature B cell","group":"G1","median":-0.092},{"cell":"Immature B cell","group":"G2","median":-0.052},
{"cell":"Immature dendritic cell","group":"G1","median":0.354},{"cell":"Immature dendritic cell","group":"G2","median":0.361},
{"cell":"Macrophage","group":"G1","median":-0.12},{"cell":"Macrophage","group":"G2","median":-0.106},
{"cell":"Mast cell","group":"G1","median":-0.06},{"cell":"Mast cell","group":"G2","median":-0.033},
{"cell":"MDSC","group":"G1","median":0.254},{"cell":"MDSC","group":"G2","median":0.294},
{"cell":"Monocyte","group":"G1","median":0.271},{"cell":"Monocyte","group":"G2","median":0.281},
{"cell":"Natural killer cell","group":"G1","median":0.065},{"cell":"Natural killer cell","group":"G2","median":0.082},
{"cell":"Natural killer T cell","group":"G1","median":0.085},{"cell":"Natural killer T cell","group":"G2","median":0.107},
{"cell":"Neutrophil","group":"G1","median":-0.183},{"cell":"Neutrophil","group":"G2","median":-0.125},
{"cell":"Plasmacytoid dendritic cell","group":"G1","median":0.445},{"cell":"Plasmacytoid dendritic cell","group":"G2","median":0.44},
{"cell":"Regulatory T cell","group":"G1","median":0.092},{"cell":"Regulatory T cell","group":"G2","median":0.115},
{"cell":"T follicular helper cell","group":"G1","median":0.065},{"cell":"T follicular helper cell","group":"G2","median":0.089},
{"cell":"Type 1 T helper cell","group":"G1","median":0.103},{"cell":"Type 1 T helper cell","group":"G2","median":0.116},
{"cell":"Type 17 T helper cell","group":"G1","median":-0.043},{"cell":"Type 17 T helper cell","group":"G2","median":-0.007},
{"cell":"Type 2 T helper cell","group":"G1","median":-0.073},{"cell":"Type 2 T helper cell","group":"G2","median":-0.066}
],
"sig": [
{"cell":"Activated B cell","sig":"ns"},{"cell":"Activated CD4 T cell","sig":"ns"},{"cell":"Activated CD8 T cell","sig":"**"},{"cell":"Activated dendritic cell","sig":"**"},{"cell":"CD56bright natural killer cell","sig":"ns"},{"cell":"CD56dim natural killer cell","sig":"**"},{"cell":"Eosinophil","sig":"*"},{"cell":"Gamma delta T cell","sig":"ns"},{"cell":"Immature B cell","sig":"**"},{"cell":"Immature dendritic cell","sig":"ns"},{"cell":"Macrophage","sig":"ns"},{"cell":"Mast cell","sig":"*"},{"cell":"MDSC","sig":"*"},{"cell":"Monocyte","sig":"*"},{"cell":"Natural killer cell","sig":"*"},{"cell":"Natural killer T cell","sig":"*"},{"cell":"Neutrophil","sig":"***"},{"cell":"Plasmacytoid dendritic cell","sig":"ns"},{"cell":"Regulatory T cell","sig":"ns"},{"cell":"T follicular helper cell","sig":"**"},{"cell":"Type 1 T helper cell","sig":"*"},{"cell":"Type 17 T helper cell","sig":"***"},{"cell":"Type 2 T helper cell","sig":"ns"}
]
},
"encoding": {
  "x": {"field": "cell", "type": "nominal",
    "scale": {"domain": ["Activated B cell","Activated CD4 T cell","Activated CD8 T cell","Activated dendritic cell","CD56bright natural killer cell","CD56dim natural killer cell","Eosinophil","Gamma delta T cell","Immature B cell","Immature dendritic cell","Macrophage","Mast cell","MDSC","Monocyte","Natural killer cell","Natural killer T cell","Neutrophil","Plasmacytoid dendritic cell","Regulatory T cell","T follicular helper cell","Type 1 T helper cell","Type 17 T helper cell","Type 2 T helper cell"], "paddingInner": 0, "paddingOuter": 0.25},
    "axis": {"title": "GSE27020 database (ssGSEA)", "labelAngle": 270, "labelAlign": "right", "labelBaseline": "middle", "labelPadding": 7, "labelLimit": 0, "titlePadding": 94}
  }
},
"layer": [
  {"data": {"name": "violins"}, "transform": [{"filter": "datum.group === 'G2'"}],
   "mark": {"type": "line", "fill": "#2B74B8", "stroke": "#1a1a1a", "strokeWidth": 1, "interpolate": "linear"},
   "encoding": {
     "xOffset": {"field": "density", "type": "quantitative", "scale": {"domain": [0, 30], "range": [42.8, 27.8], "nice": false, "zero": false}},
     "y": {"field": "score", "type": "quantitative", "title": "ssGSEA score", "scale": {"domain": [-0.5, 0.6], "nice": false, "zero": false},
       "axis": {"values": [-0.5, -0.25, 0, 0.25, 0.5], "labelExpr": "datum.value == 0.5 ? '0.90' : format(datum.value, '.2f')", "labelPadding": 8, "titlePadding": 22}},
     "detail": {"field": "cell"},
     "order": {"value": null}
   }},
  {"data": {"name": "violins"}, "transform": [{"filter": "datum.group === 'G2'"}],
   "mark": {"type": "line", "fill": "#2B74B8", "stroke": "#1a1a1a", "strokeWidth": 1, "interpolate": "linear"},
   "encoding": {
     "xOffset": {"field": "density", "type": "quantitative", "scale": {"domain": [0, 30], "range": [41.8, 56.8], "nice": false, "zero": false}},
     "y": {"field": "score", "type": "quantitative"},
     "detail": {"field": "cell"},
     "order": {"value": null}
   }},
  {"data": {"name": "violins"}, "transform": [{"filter": "datum.group === 'G1'"}],
   "mark": {"type": "line", "fill": "#C5361F", "stroke": "#1a1a1a", "strokeWidth": 1, "interpolate": "linear"},
   "encoding": {
     "xOffset": {"field": "density", "type": "quantitative", "scale": {"domain": [0, 30], "range": [7.3, -7.7], "nice": false, "zero": false}},
     "y": {"field": "score", "type": "quantitative"},
     "detail": {"field": "cell"},
     "order": {"value": null}
   }},
  {"data": {"name": "violins"}, "transform": [{"filter": "datum.group === 'G1'"}],
   "mark": {"type": "line", "fill": "#C5361F", "stroke": "#1a1a1a", "strokeWidth": 1, "interpolate": "linear"},
   "encoding": {
     "xOffset": {"field": "density", "type": "quantitative", "scale": {"domain": [0, 30], "range": [6.3, 21.3], "nice": false, "zero": false}},
     "y": {"field": "score", "type": "quantitative"},
     "detail": {"field": "cell"},
     "order": {"value": null}
   }},
  {"data": {"name": "medians"}, "transform": [{"filter": "datum.group === 'G2'"}],
   "mark": {"type": "point", "filled": true, "color": "#000", "size": 28, "opacity": 1},
   "encoding": {
     "xOffset": {"datum": 0, "type": "quantitative", "scale": {"domain": [0, 30], "range": [42.3, 57.3], "nice": false, "zero": false}},
     "y": {"field": "median", "type": "quantitative"}
   }},
  {"data": {"name": "medians"}, "transform": [{"filter": "datum.group === 'G1'"}],
   "mark": {"type": "point", "filled": true, "color": "#000", "size": 28, "opacity": 1},
   "encoding": {
     "xOffset": {"datum": 0, "type": "quantitative", "scale": {"domain": [0, 30], "range": [6.8, 21.8], "nice": false, "zero": false}},
     "y": {"field": "median", "type": "quantitative"}
   }},
  {"data": {"name": "sig"},
   "mark": {"type": "text", "font": "Liberation Serif", "fontSize": 20, "baseline": "alphabetic", "color": "#222"},
   "encoding": {
     "y": {"datum": 0.554},
     "text": {"field": "sig"}
   }}
],
"resolve": {"scale": {"xOffset": "independent"}}
}
